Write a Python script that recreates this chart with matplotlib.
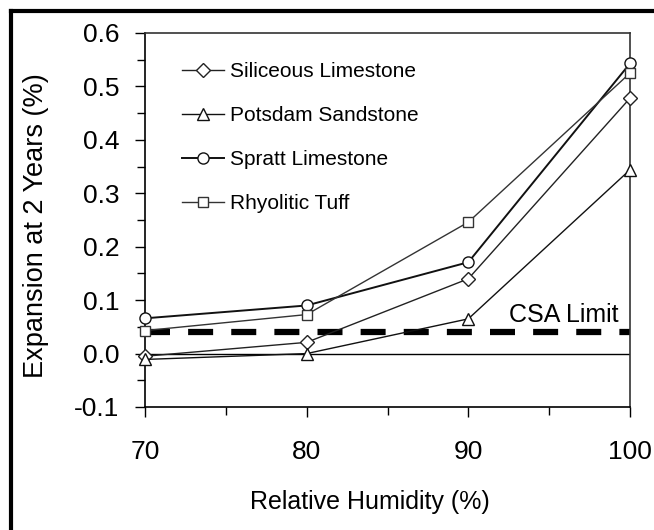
import matplotlib
matplotlib.use("Agg")
import matplotlib.pyplot as plt
from matplotlib.lines import Line2D
from matplotlib.ticker import MultipleLocator, FormatStrFormatter

plt.rcParams['font.family'] = ['Liberation Sans', 'DejaVu Sans']

humidity = [70, 80, 90, 100]
siliceous = [-0.005, 0.021, 0.140, 0.478]
potsdam = [-0.011, 0.000, 0.065, 0.344]
spratt = [0.066, 0.090, 0.171, 0.543]
rhyolitic = [0.043, 0.073, 0.246, 0.525]
csa_limit = 0.04
labels = ["Siliceous Limestone", "Potsdam Sandstone", "Spratt Limestone", "Rhyolitic Tuff"]

W, H = 654, 530
fig = plt.figure(figsize=(W / 100, H / 100), dpi=100)
fig.patch.set_facecolor('white')
ax = fig.add_axes([145 / W, (H - 407) / H, 485 / W, 374 / H])

# zero line
ax.plot([70, 100], [0, 0], color='black', lw=1.0, zorder=2)
# CSA limit
ln, = ax.plot([70, 100], [csa_limit, csa_limit], color='black', lw=4.5,
              solid_capstyle='butt', dash_capstyle='butt', zorder=2)
ln.set_dashes([4.0, 2.9])
ax.text(99.3, csa_limit + 0.009, "CSA Limit", fontsize=18, ha='right', va='bottom')

ms = 9
common = dict(lw=1.0, mfc='white', mew=1.0, zorder=3, clip_on=False)
ax.plot(humidity, siliceous, color='#222222', marker='D', ms=7.5, mec='#222222',
        label=labels[0], **common)
ax.plot(humidity, potsdam, color='#111111', marker='^', ms=ms, mec='#111111',
        label=labels[1], **common)
sp = dict(common)
sp['lw'] = 1.4
ax.plot(humidity, spratt, color='#111111', marker='o', ms=8, mec='#111111',
        label=labels[2], **sp)
ax.plot(humidity, rhyolitic, color='#333333', marker='s', ms=6.5, mec='#333333',
        label=labels[3], **common)

ax.set_xlim(70, 100)
ax.set_ylim(-0.1, 0.6)
ax.xaxis.set_major_locator(MultipleLocator(10))
ax.xaxis.set_minor_locator(MultipleLocator(5))
ax.yaxis.set_major_locator(MultipleLocator(0.1))
ax.yaxis.set_minor_locator(MultipleLocator(0.05))
ax.yaxis.set_major_formatter(FormatStrFormatter('%.1f'))
ax.tick_params(axis='both', which='major', direction='out', length=7.5, width=1.0,
               labelsize=19, color='black')
ax.tick_params(axis='y', which='major', pad=11)
ax.tick_params(axis='x', which='major', pad=16)
ax.tick_params(axis='both', which='minor', direction='out', length=5.5, width=1.0)
for s in ['left', 'bottom']:
    ax.spines[s].set_color('black')
    ax.spines[s].set_linewidth(1.2)
for s in ['top', 'right']:
    ax.spines[s].set_color('#333333')
    ax.spines[s].set_linewidth(1.2)

ax.set_xlabel("Relative Humidity (%)", fontsize=18)
ax.xaxis.set_label_coords((370 - 145) / 485, -(490 - 407) / 374)
ax.set_ylabel("Expansion at 2 Years (%)", fontsize=19.5)
ax.yaxis.set_label_coords((49 - 145) / 485, 0.485)

leg = ax.legend(loc='upper left', bbox_to_anchor=(29 / 485, 1 - 21 / 374), frameon=False,
                fontsize=15, handlelength=2.0, handletextpad=0.3, labelspacing=1.2,
                borderaxespad=0)

# outer frame (left and top visible)
fig.add_artist(Line2D([11 / W, 11 / W], [0, 1 - 11 / H], transform=fig.transFigure,
                      color='black', lw=3, solid_capstyle='projecting'))
fig.add_artist(Line2D([11 / W, 1], [1 - 11 / H, 1 - 11 / H], transform=fig.transFigure,
                      color='black', lw=3, solid_capstyle='projecting'))

fig.savefig("out.png", dpi=100)
